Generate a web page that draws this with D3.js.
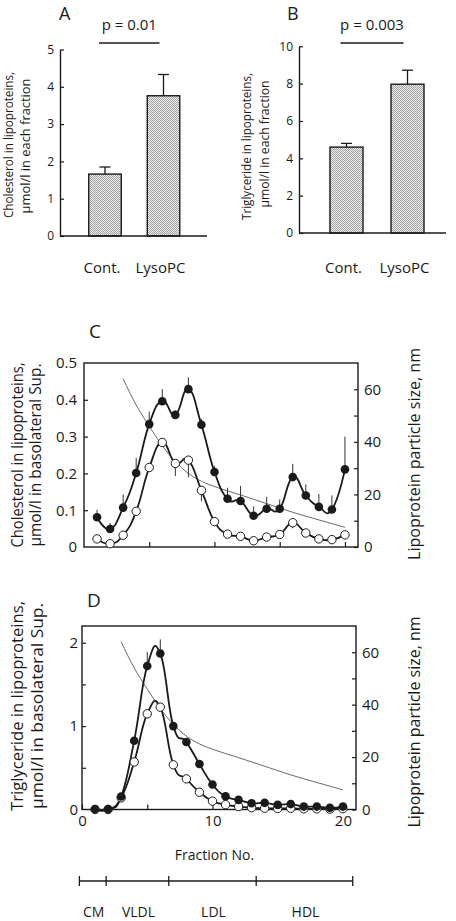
<!DOCTYPE html>
<html><head><meta charset="utf-8">
<script src="https://cdn.jsdelivr.net/npm/d3@7"></script>
<style>
body{margin:0;background:#fff;}
svg{display:block;font-family:"Open Sans",sans-serif;}
</style></head><body>
<svg id="chart" width="456" height="921"></svg>
<script>
// ---------- data ----------
const categories = ["Cont.", "LysoPC"];
const cholMeans = [1.66, 3.76];
const cholErrs = [0.19, 0.57];
const tgMeans = [4.6, 7.97];
const tgErrs = [0.2, 0.75];
const pLabels = ["p = 0.01", "p = 0.003"];
const barTicksA = [0, 1, 2, 3, 4, 5];
const barTicksB = [0, 2, 4, 6, 8, 10];

const fractions = [1,2,3,4,5,6,7,8,9,10,11,12,13,14,15,16,17,18,19,20];
// Panel C: cholesterol (µmol/l)
const cholLyso    = [0.081,0.049,0.107,0.201,0.334,0.396,0.359,0.429,0.332,0.204,0.131,0.125,0.085,0.104,0.104,0.190,0.140,0.109,0.102,0.211];
const cholLysoErr = [0.020,0.016,0.036,0.041,0.034,0.033,0.012,0.032,0.016,0.016,0.030,0.041,0.025,0.032,0.025,0.036,0.030,0.035,0.038,0.089];
const cholCont    = [0.022,0.009,0.032,0.097,0.216,0.284,0.227,0.236,0.154,0.069,0.035,0.029,0.017,0.027,0.034,0.066,0.038,0.022,0.020,0.033];
const cholContErr = [0,0,0,0,0,0.010,0.034,0.047,0.030,0,0,0,0,0,0,0.015,0,0,0,0];
// Panel D: triglyceride (µmol/l)
const tgLyso    = [0.005,0.005,0.155,0.825,1.72,1.87,1.00,0.81,0.545,0.30,0.158,0.115,0.075,0.080,0.055,0.065,0.035,0.035,0.020,0.035];
const tgLysoErr = [0,0,0.02,0.03,0.17,0.17,0,0,0,0,0,0,0,0,0,0,0,0,0,0];
const tgCont    = [0.0,0.0,0.14,0.57,1.147,1.227,0.536,0.367,0.207,0.10,0.058,0.035,0.022,0.015,0.012,0.015,0.008,0.008,0.005,0.010];
const tgContErr = [0,0,0,0,0,0,0,0,0,0,0,0,0,0,0,0,0,0,0,0];
// Lipoprotein particle size (nm), right axis
const sizeFractions = [3,4,5,6,7,8,9,10,12,14,16,18,20];
const sizeNm        = [64,54,46,38.5,32.5,28,25,23,19.8,16.5,13.2,10.3,7.5];
// Fraction classes
const classNames = ["CM", "VLDL", "LDL", "HDL"];
const classBounds = [-0.2, 1.85, 6.65, 13.35, 20.75];

// ---------- drawing ----------
const svg = d3.select("#chart");
const INK = "#1a1a1a";

const defs = svg.append("defs");
const pat = defs.append("pattern").attr("id", "stipple")
  .attr("patternUnits", "userSpaceOnUse").attr("width", 2).attr("height", 2);
pat.append("rect").attr("width", 2).attr("height", 2).attr("fill", "#f0f0f0");
pat.append("rect").attr("x", 0).attr("y", 0).attr("width", 1).attr("height", 1).attr("fill", "#a0a0a0");
pat.append("rect").attr("x", 1).attr("y", 1).attr("width", 1).attr("height", 1).attr("fill", "#a0a0a0");

function styleAxis(g, fs) {
  g.selectAll("path.domain").attr("stroke", INK).attr("stroke-width", 1.4);
  g.selectAll(".tick line").attr("stroke", INK).attr("stroke-width", 1.2);
  g.selectAll(".tick text").attr("fill", INK).style("font-size", fs + "px")
    .style("font-family", '"Open Sans", sans-serif');
}

function vTitle(x, cy, text, len, fs) {
  svg.append("text")
    .attr("transform", `translate(${x},${cy}) rotate(-90)`)
    .attr("text-anchor", "middle")
    .attr("textLength", len).attr("lengthAdjust", "spacingAndGlyphs")
    .style("font-size", fs + "px").attr("fill", INK).text(text);
}

function barPanel(o) {
  const y = d3.scaleLinear().domain([0, o.max]).range([o.y0, o.y1]);
  const x = d3.scalePoint().domain(categories).range([o.c0, o.c1]);
  const bw = o.bw;
  o.means.forEach((m, i) => {
    const cx = x(categories[i]);
    const e = o.errs[i];
    svg.append("line").attr("x1", cx).attr("x2", cx).attr("y1", y(m)).attr("y2", y(m + e))
      .attr("stroke", INK).attr("stroke-width", 1.3);
    svg.append("line").attr("x1", cx - 5.5).attr("x2", cx + 5.5).attr("y1", y(m + e)).attr("y2", y(m + e))
      .attr("stroke", INK).attr("stroke-width", 1.3);
    svg.append("rect").attr("x", cx - bw / 2).attr("y", y(m)).attr("width", bw).attr("height", y(0) - y(m))
      .attr("fill", "url(#stipple)").attr("stroke", INK).attr("stroke-width", 1.4);
    svg.append("text").attr("x", cx - 3).attr("y", 273).attr("text-anchor", "middle")
      .style("font-size", "15px").attr("fill", INK).text(categories[i]);
  });
  const g = svg.append("g").attr("transform", `translate(${o.ax},0)`)
    .call(d3.axisLeft(y).tickValues(o.ticks).tickSize(-4).tickSizeOuter(0).tickPadding(6).tickFormat(d => d));
  styleAxis(g, 12);
  svg.append("line").attr("x1", o.ax).attr("x2", o.baseEnd).attr("y1", y(0)).attr("y2", y(0))
    .attr("stroke", INK).attr("stroke-width", 1.4);
  const lx0 = x(categories[0]) - 6, lx1 = x(categories[1]) - 4;
  svg.append("line").attr("x1", lx0).attr("x2", lx1).attr("y1", 43).attr("y2", 43)
    .attr("stroke", INK).attr("stroke-width", 1.6);
  svg.append("text").attr("x", (lx0 + lx1) / 2).attr("y", 30).attr("text-anchor", "middle")
    .style("font-size", "15px").attr("fill", INK).text(o.p);
  svg.append("text").attr("x", o.letterX).attr("y", 20).style("font-size", "18px").attr("fill", INK).text(o.letter);
  vTitle(o.t1x, o.t1y, o.title1, o.t1len, 13);
  vTitle(o.t2x, o.t2y, o.title2, o.t2len, 13);
}

barPanel({ means: cholMeans, errs: cholErrs, max: 5, ticks: barTicksA, y0: 236, y1: 49.5,
  c0: 105, c1: 163.5, bw: 32.5, ax: 60, baseEnd: 207, p: pLabels[0], letter: "A", letterX: 59,
  title1: "Cholesterol in lipoproteins,", title2: "µmol/l in each fraction",
  t1x: 12.5, t1y: 145, t1len: 146, t2x: 29.5, t2y: 146, t2len: 135 });
barPanel({ means: tgMeans, errs: tgErrs, max: 10, ticks: barTicksB, y0: 233, y1: 46.3,
  c0: 346.5, c1: 407.5, bw: 33, ax: 299, baseEnd: 446, p: pLabels[1], letter: "B", letterX: 287,
  title1: "Triglyceride in lipoproteins,", title2: "µmol/l in each fraction",
  t1x: 250.5, t1y: 146.5, t1len: 147, t2x: 268.5, t2y: 144, t2len: 127 });

function linePanel(o) {
  const x = d3.scaleLinear().domain([0, 21]).range([o.left, o.right]);
  const yL = d3.scaleLinear().domain([0, o.lmax]).range([o.bottom, o.top]);
  const yR = d3.scaleLinear().domain([0, 70]).range([o.bottom, o.top]);
  svg.append("rect").attr("x", o.left).attr("y", o.top).attr("width", o.right - o.left)
    .attr("height", o.bottom - o.top).attr("fill", "none").attr("stroke", INK).attr("stroke-width", 1.4);
  const gl = svg.append("g").attr("transform", `translate(${o.left},0)`)
    .call(d3.axisLeft(yL).tickValues(o.lticks).tickSize(-4).tickSizeOuter(0).tickPadding(o.lpad).tickFormat(o.lfmt));
  styleAxis(gl, 15);
  const gr = svg.append("g").attr("transform", `translate(${o.right},0)`)
    .call(d3.axisRight(yR).tickValues([0,10,20,30,40,50,60]).tickSize(-4).tickSizeOuter(0).tickPadding(6)
      .tickFormat(d => d % 20 === 0 ? d : ""));
  styleAxis(gr, 15);
  const gb = svg.append("g").attr("transform", `translate(0,${o.bottom})`)
    .call(d3.axisBottom(x).tickValues(o.bticks).tickSize(-5).tickSizeOuter(0).tickPadding(6).tickFormat(o.bfmt));
  styleAxis(gb, 15);
  [gl, gr, gb].forEach(g => g.select("path.domain").remove());
  gl.selectAll(".tick line").filter(d => d === 0 || d === o.lmax).remove();
  const sizePts = sizeFractions.map((f, i) => [f, sizeNm[i]]);
  svg.append("path").datum(sizePts)
    .attr("d", d3.line().x(d => x(d[0])).y(d => yR(d[1])).curve(d3.curveMonotoneX))
    .attr("fill", "none").attr("stroke", "#444").attr("stroke-width", 0.8);
  const eb = (vals, errs, dir) => vals.forEach((v, i) => {
    if (errs[i] <= 0) return;
    svg.append("line").attr("x1", x(fractions[i])).attr("x2", x(fractions[i]))
      .attr("y1", yL(v)).attr("y2", yL(v + dir * errs[i]))
      .attr("stroke", "#333").attr("stroke-width", 1);
  });
  eb(o.lyso, o.lysoErr, 1);
  eb(o.cont, o.contErr, -1);
  const ln = d3.line().x((d, i) => x(fractions[i])).y(d => yL(d)).curve(d3.curveCardinal.tension(-0.4));
  [o.cont, o.lyso].forEach(vals => {
    svg.append("path").datum(vals).attr("d", ln).attr("fill", "none")
      .attr("stroke", INK).attr("stroke-width", 1.8);
  });
  o.cont.forEach((v, i) => svg.append("circle").attr("cx", x(fractions[i])).attr("cy", yL(v)).attr("r", 4.2)
    .attr("fill", "#fff").attr("stroke", INK).attr("stroke-width", 1));
  o.lyso.forEach((v, i) => svg.append("circle").attr("cx", x(fractions[i])).attr("cy", yL(v)).attr("r", 4.3)
    .attr("fill", INK));
  svg.append("text").attr("x", o.left + 5).attr("y", o.letterY).style("font-size", "19px").attr("fill", INK).text(o.letter);
  vTitle(o.t1x, o.tcy, o.title1, o.t1len, 16);
  vTitle(o.t2x, o.tcy, "µmol/l in basolateral Sup.", o.t2len, 16);
  vTitle(419.5, o.rcy, "Lipoprotein particle size, nm", o.rlen, 16);
  return x;
}

linePanel({ left: 84, right: 358, top: 363, bottom: 547, lmax: 0.5,
  lticks: [0, 0.1, 0.2, 0.3, 0.4, 0.5], lpad: 7, lfmt: d => d === 0 ? "0" : d3.format(".1f")(d),
  bticks: [5, 10, 15, 20], bfmt: () => "",
  lyso: cholLyso, lysoErr: cholLysoErr, cont: cholCont, contErr: cholContErr,
  letter: "C", letterY: 338, title1: "Cholesterol in lipoproteins,",
  t1x: 22.5, t2x: 41, tcy: 455, t1len: 185, t2len: 183, rcy: 454, rlen: 212 });

const xD = linePanel({ left: 82, right: 356, top: 626, bottom: 809.5, lmax: 2.2,
  lticks: [0, 0.5, 1, 1.5, 2], lpad: 4, lfmt: d => Number.isInteger(d) ? d : "",
  bticks: [0, 5, 10, 15, 20], bfmt: d => d % 10 === 0 ? d : "",
  lyso: tgLyso, lysoErr: tgLysoErr, cont: tgCont, contErr: tgContErr,
  letter: "D", letterY: 607, title1: "Triglyceride in lipoproteins,",
  t1x: 22.5, t2x: 42.5, tcy: 706, t1len: 210, t2len: 206, rcy: 722, rlen: 211 });

svg.append("text").attr("x", xD(10) + 2).attr("y", 860).attr("text-anchor", "middle")
  .style("font-size", "14px").attr("fill", INK).text("Fraction No.");
const by = 881;
svg.append("line").attr("x1", xD(classBounds[0])).attr("x2", xD(classBounds[classBounds.length - 1]))
  .attr("y1", by).attr("y2", by).attr("stroke", INK).attr("stroke-width", 1.3);
classBounds.forEach(b => svg.append("line").attr("x1", xD(b)).attr("x2", xD(b))
  .attr("y1", by - 5).attr("y2", by + 5).attr("stroke", INK).attr("stroke-width", 1.3));
classNames.forEach((n, i) => svg.append("text")
  .attr("x", (xD(classBounds[i]) + xD(classBounds[i + 1])) / 2 + 1).attr("y", 916.5)
  .attr("text-anchor", "middle").style("font-size", "14px").attr("fill", INK).text(n));
</script>
</body></html>
